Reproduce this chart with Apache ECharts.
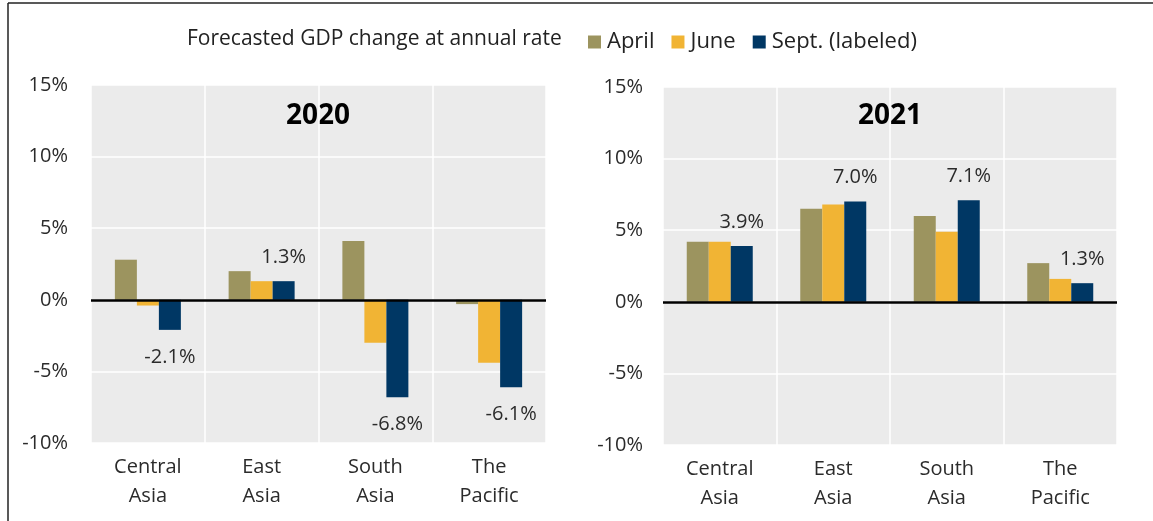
<!DOCTYPE html>
<html>
<head>
<meta charset="utf-8">
<script src="https://cdn.jsdelivr.net/npm/echarts@6/dist/echarts.min.js"></script>
<style>
  html, body { margin: 0; padding: 0; background: #fff; }
  #chart { width: 1153px; height: 521px; }
</style>
</head>
<body>
<div id="chart"></div>
<script>
var regions = ['Central\nAsia', 'East\nAsia', 'South\nAsia', 'The\nPacific'];
var seriesNames = ['April', 'June', 'Sept. (labeled)'];
var colors = ['#9C945F', '#F1B434', '#003764'];

// forecast GDP change, %
var april2020 = [2.8, 2.0, 4.1, -0.3];
var june2020 = [-0.4, 1.3, -3.0, -4.4];
var sept2020 = [-2.1, 1.3, -6.8, -6.1];

var april2021 = [4.2, 6.5, 6.0, 2.7];
var june2021 = [4.2, 6.8, 4.9, 1.6];
var sept2021 = [3.9, 7.0, 7.1, 1.3];

var FONT = '"Open Sans", "Noto Sans", sans-serif';
var chart = echarts.init(document.getElementById('chart'));

function labeled(values) {
  // Sept. values get a label outside the bar end
  return values.map(function (v) {
    return {
      value: v,
      label: {
        show: true,
        position: v < 0 ? 'bottom' : 'top',
        distance: v < 0 ? 17 : 14,
        formatter: function (p) { return p.value.toFixed(1) + '%'; }
      }
    };
  });
}

function xAxisFor(idx) {
  return {
    type: 'category',
    gridIndex: idx,
    data: regions,
    axisLine: { show: false, onZero: false },
    axisTick: { show: false },
    axisLabel: { color: '#2b2b2b', fontFamily: FONT, fontSize: 20, lineHeight: 29, margin: 10 },
    splitLine: { show: true, lineStyle: { color: '#fff', width: 1.5 } }
  };
}

function yAxisFor(idx, margin) {
  return {
    type: 'value',
    gridIndex: idx,
    min: -10, max: 15, interval: 5,
    axisLine: { show: false },
    axisTick: { show: false },
    axisLabel: { formatter: '{value}%', color: '#2b2b2b', fontFamily: FONT, fontSize: 20, margin: margin },
    splitLine: { lineStyle: { color: '#fff', width: 1.5 } }
  };
}

function barSeries(name, idx, data, color, withZero) {
  var s = {
    name: name,
    type: 'bar',
    xAxisIndex: idx,
    yAxisIndex: idx,
    data: data,
    barWidth: 22,
    barGap: '0%',
    itemStyle: { color: color },
    label: { color: '#2b2b2b', fontFamily: FONT, fontSize: 20 },
    emphasis: { disabled: true }
  };
  if (withZero) {
    s.markLine = {
      silent: true,
      symbol: 'none',
      label: { show: false },
      lineStyle: { color: '#000', width: 2.5, type: 'solid' },
      data: [{ yAxis: 0 }]
    };
  }
  return s;
}

var option = {
  animation: false,
  backgroundColor: '#fff',
  textStyle: { fontFamily: FONT },
  legend: {
    data: seriesNames,
    left: 583,
    top: 26,
    itemWidth: 13,
    itemHeight: 13,
    itemGap: 17,
    icon: 'rect',
    textStyle: { color: '#222', fontFamily: FONT, fontSize: 22, padding: [0, 0, 0, 1] }
  },
  grid: [
    { left: 91, top: 85, width: 455, height: 358, show: true, backgroundColor: '#EBEBEB', borderWidth: 0 },
    { left: 663, top: 87, width: 454, height: 358, show: true, backgroundColor: '#EBEBEB', borderWidth: 0 }
  ],
  xAxis: [xAxisFor(0), xAxisFor(1)],
  yAxis: [yAxisFor(0, 23), yAxisFor(1, 20)],
  series: [
    barSeries(seriesNames[0], 0, april2020, colors[0], true),
    barSeries(seriesNames[1], 0, june2020, colors[1]),
    barSeries(seriesNames[2], 0, labeled(sept2020), colors[2]),
    barSeries(seriesNames[0], 1, april2021, colors[0], true),
    barSeries(seriesNames[1], 1, june2021, colors[1]),
    barSeries(seriesNames[2], 1, labeled(sept2021), colors[2])
  ],
  graphic: [
    { type: 'text', x: 187, y: 39, style: { text: 'Forecasted GDP change at annual rate', fill: '#222', font: '21px ' + FONT, verticalAlign: 'middle' } },
    { type: 'text', x: 318, y: 116, style: { text: '2020', fill: '#000', font: 'bold 28px ' + FONT, align: 'center', verticalAlign: 'middle' } },
    { type: 'text', x: 890, y: 116, style: { text: '2021', fill: '#000', font: 'bold 28px ' + FONT, align: 'center', verticalAlign: 'middle' } },
    { type: 'line', shape: { x1: 8, y1: 3, x2: 1153, y2: 3 }, style: { stroke: '#222', lineWidth: 1.5 } },
    { type: 'line', shape: { x1: 8, y1: 3, x2: 8, y2: 521 }, style: { stroke: '#222', lineWidth: 1.5 } }
  ]
};

chart.setOption(option);
</script>
</body>
</html>
